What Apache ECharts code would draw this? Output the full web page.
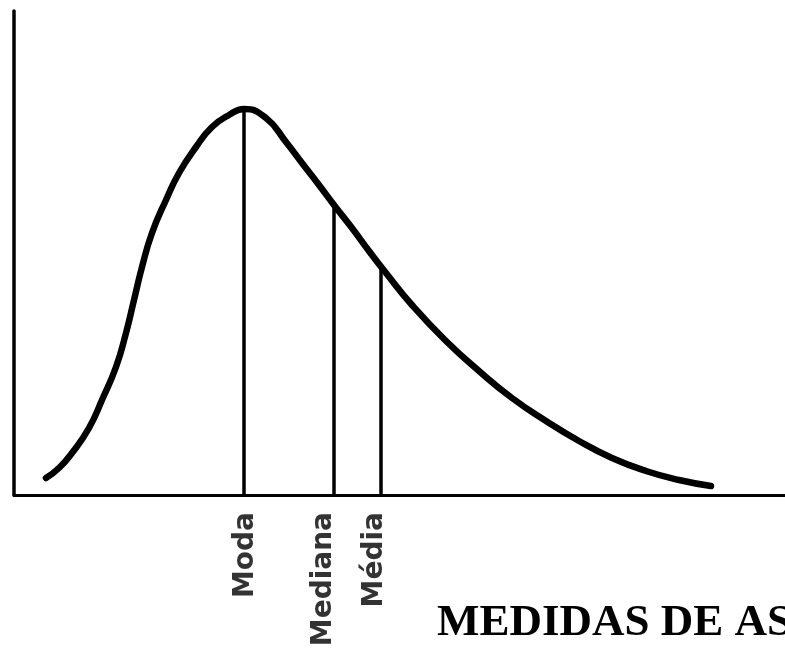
<!DOCTYPE html>
<html>
<head>
<meta charset="utf-8">
<script src="https://cdn.jsdelivr.net/npm/echarts@6/dist/echarts.min.js"></script>
<style>
html,body{margin:0;padding:0;background:#fff;}
#chart{width:785px;height:652px;}
</style>
</head>
<body>
<div id="chart"></div>
<script>
// Curve (x along horizontal axis, y = height above axis)
var curveX = [32, 45, 58, 75, 88, 102, 112, 120, 128, 138, 152, 165, 182, 198, 215, 230, 252, 272, 288, 305, 320, 338, 355, 372, 398, 432, 465, 498, 532, 565, 598, 632, 665, 697];
var curveY = [17, 27, 42, 67, 95, 128, 162, 195, 228, 262, 295, 322, 348, 368, 380, 386, 377, 353, 332, 310, 290, 267, 244, 222, 190, 154, 124, 97, 74, 54, 37, 24, 15, 9];
// Marker lines
var markerNames = ['Moda', 'Mediana', 'Média'];
var markerX = [230, 320, 367];
var markerTop = [386, 290, 229];
var labelShift = [1.5, -10, -6];
var titleText = 'MEDIDAS DE AS';

var curveData = curveX.map(function (x, i) { return [x, curveY[i]]; });
var markLines = markerX.map(function (x, i) {
  return [{ coord: [x, 0] }, { coord: [x, markerTop[i]] }];
});
var labelData = markerX.map(function (x, i) {
  return {
    value: [x, 0],
    name: markerNames[i],
    label: { offset: [-17, labelShift[i]] }
  };
});

var chart = echarts.init(document.getElementById('chart'), null, { renderer: 'canvas' });
chart.setOption({
  backgroundColor: '#ffffff',
  animation: false,
  title: {
    text: titleText,
    left: 437,
    top: 601,
    padding: 0,
    textStyle: {
      fontFamily: 'Liberation Serif',
      fontWeight: 'bold',
      fontSize: 45,
      color: '#000'
    }
  },
  grid: { left: 14, top: 11, right: 0, bottom: 157, containLabel: false },
  xAxis: {
    type: 'value', min: 0, max: 771,
    axisLine: { show: true, onZero: false, lineStyle: { color: '#000', width: 3 } },
    axisTick: { show: false }, axisLabel: { show: false }, splitLine: { show: false }
  },
  yAxis: {
    type: 'value', min: 0, max: 484,
    axisLine: { show: true, lineStyle: { color: '#000', width: 3.5 } },
    axisTick: { show: false }, axisLabel: { show: false }, splitLine: { show: false }
  },
  series: [
    {
      type: 'line',
      data: curveData,
      smooth: 0.5,
      showSymbol: false,
      lineStyle: { color: '#000', width: 6.5, cap: 'round' },
      markLine: {
        silent: true,
        symbol: 'none',
        label: { show: false },
        lineStyle: { color: '#000', width: 3.5, type: 'solid' },
        data: markLines
      }
    },
    {
      type: 'scatter',
      symbolSize: 1,
      itemStyle: { color: 'rgba(0,0,0,0)' },
      data: labelData,
      label: {
        show: true,
        formatter: '{b}',
        position: 'inside',
        rotate: 90,
        align: 'right',
        verticalAlign: 'middle',
        fontFamily: 'DejaVu Sans',
        fontWeight: 'bold',
        fontSize: 28,
        color: '#000'
      }
    }
  ]
});
</script>
</body>
</html>
